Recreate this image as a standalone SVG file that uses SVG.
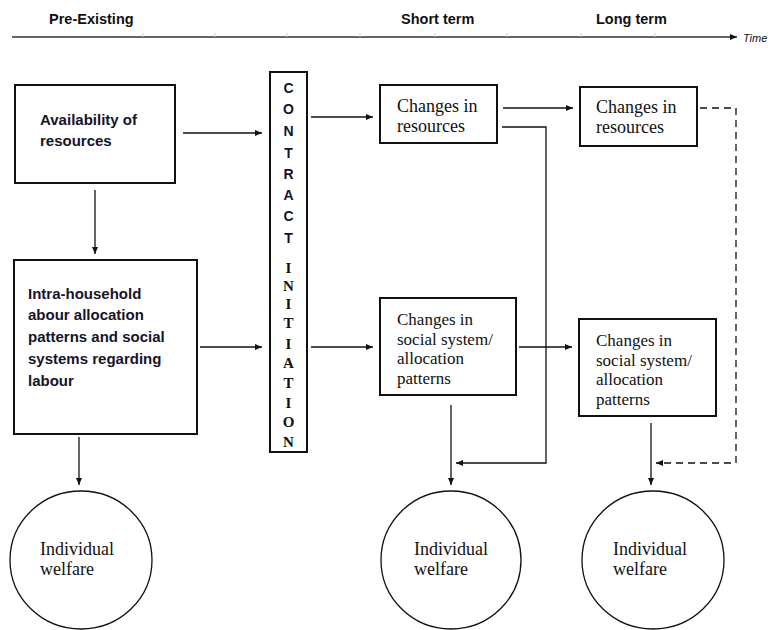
<svg xmlns="http://www.w3.org/2000/svg" width="771" height="630" viewBox="0 0 771 630">
<style>
.hdr{font-family:"Liberation Sans",Arial,sans-serif;font-weight:bold;font-size:14.5px;fill:#111}
.bs{font-family:"Liberation Sans",Arial,sans-serif;font-weight:bold;font-size:15px;fill:#14142a}
.sr{font-family:"Liberation Serif","Times New Roman",serif;font-size:18px;fill:#111}
.ss{font-family:"Liberation Serif","Times New Roman",serif;font-size:17px;fill:#111}
.box{fill:#fff;stroke:#111;stroke-width:2}
.ell{fill:#fff;stroke:#111;stroke-width:1.3}
.cn{fill:none;stroke:#111;stroke-width:1.3}
.dash{stroke-dasharray:7 5}
.tick{stroke:#ccc;stroke-width:1}
.cl{font-family:"Liberation Sans",Arial,sans-serif;font-weight:bold;font-size:14px;fill:#14142a;text-anchor:middle}
.il{font-family:"Liberation Serif","Times New Roman",serif;font-weight:bold;font-size:15px;fill:#111;text-anchor:middle}
</style>
<defs>
<marker id="ah" markerWidth="8" markerHeight="8" refX="7" refY="4" orient="auto" markerUnits="userSpaceOnUse">
<path d="M0,1 L7,4 L0,7 Z" fill="#111"/>
</marker>
</defs>
<g id="timeline">
<line x1="12" y1="37" x2="737" y2="37" stroke="#333" stroke-width="1.5" marker-end="url(#ah)"/>
<g class="tick">
<line x1="143" y1="33" x2="143" y2="37"/><line x1="215" y1="33" x2="215" y2="37"/><line x1="287" y1="33" x2="287" y2="37"/><line x1="360" y1="33" x2="360" y2="37"/><line x1="435" y1="33" x2="435" y2="37"/><line x1="507" y1="33" x2="507" y2="37"/><line x1="581" y1="33" x2="581" y2="37"/><line x1="655" y1="33" x2="655" y2="37"/>
</g>
<text class="hdr" x="49" y="24">Pre-Existing</text>
<text class="hdr" x="401" y="24">Short term</text>
<text class="hdr" x="596" y="24">Long term</text>
<text x="743" y="42" font-family="Liberation Sans,Arial,sans-serif" font-style="italic" font-size="11" fill="#111">Time</text>
</g>
<g id="connectors">
<line class="cn" x1="183" y1="133" x2="262" y2="133" marker-end="url(#ah)"/>
<line class="cn" x1="200" y1="347" x2="262" y2="347" marker-end="url(#ah)"/>
<line class="cn" x1="95" y1="190" x2="95" y2="254" marker-end="url(#ah)"/>
<line class="cn" x1="79" y1="437" x2="79" y2="485" marker-end="url(#ah)"/>
<line class="cn" x1="311" y1="117" x2="373" y2="117" marker-end="url(#ah)"/>
<line class="cn" x1="311" y1="347" x2="373" y2="347" marker-end="url(#ah)"/>
<line class="cn" x1="503" y1="108" x2="573" y2="108" marker-end="url(#ah)"/>
<line class="cn" x1="519" y1="347" x2="572" y2="347" marker-end="url(#ah)"/>
<polyline class="cn" points="502,127 546,127 546,463 456,463" marker-end="url(#ah)"/>
<polyline class="cn dash" points="700,108 736,108 736,463 656,463" marker-end="url(#ah)"/>
<line class="cn" x1="451" y1="405" x2="451" y2="485" marker-end="url(#ah)"/>
<line class="cn" x1="651" y1="423" x2="651" y2="485" marker-end="url(#ah)"/>
</g>
<g id="availability">
<rect class="box" x="15" y="85" width="160" height="98"/>
<text class="bs" x="40" y="125">Availability of</text>
<text class="bs" x="40" y="146">resources</text>
</g>
<g id="intra-household">
<rect class="box" x="14" y="260" width="183" height="174"/>
<text class="bs" x="28" y="299">Intra-household</text>
<text class="bs" x="28" y="320">abour allocation</text>
<text class="bs" x="28" y="342">patterns and social</text>
<text class="bs" x="28" y="364">systems regarding</text>
<text class="bs" x="28" y="386">labour</text>
</g>
<g id="contract-initiation">
<rect class="box" x="270" y="72" width="37" height="380"/>
<text class="cl" x="288.5" y="93">C</text>
<text class="cl" x="288.5" y="114">O</text>
<text class="cl" x="288.5" y="136">N</text>
<text class="cl" x="288.5" y="158">T</text>
<text class="cl" x="288.5" y="179">R</text>
<text class="cl" x="288.5" y="200">A</text>
<text class="cl" x="288.5" y="221">C</text>
<text class="cl" x="288.5" y="243">T</text>
<text class="il" x="288.5" y="273">I</text>
<text class="il" x="288.5" y="291">N</text>
<text class="il" x="288.5" y="309">I</text>
<text class="il" x="288.5" y="328">T</text>
<text class="il" x="288.5" y="349">I</text>
<text class="il" x="288.5" y="368">A</text>
<text class="il" x="288.5" y="388">T</text>
<text class="il" x="288.5" y="408">I</text>
<text class="il" x="288.5" y="427">O</text>
<text class="il" x="288.5" y="447">N</text>
</g>
<g id="short-resources">
<rect class="box" x="380" y="85" width="117" height="58"/>
<text class="sr" x="397" y="112">Changes in</text>
<text class="sr" x="397" y="132">resources</text>
</g>
<g id="long-resources">
<rect class="box" x="580" y="87" width="117" height="59"/>
<text class="sr" x="596" y="113">Changes in</text>
<text class="sr" x="596" y="133">resources</text>
</g>
<g id="short-social">
<rect class="box" x="380" y="298" width="136" height="97"/>
<text class="ss" x="397" y="325">Changes in</text>
<text class="ss" x="397" y="344.5">social system/</text>
<text class="ss" x="397" y="364">allocation</text>
<text class="ss" x="397" y="383.5">patterns</text>
</g>
<g id="long-social">
<rect class="box" x="579" y="319" width="137" height="97"/>
<text class="ss" x="596" y="346">Changes in</text>
<text class="ss" x="596" y="365.5">social system/</text>
<text class="ss" x="596" y="385">allocation</text>
<text class="ss" x="596" y="404.5">patterns</text>
</g>
<g id="welfare-pre">
<ellipse class="ell" cx="81" cy="560" rx="71" ry="69"/>
<text class="sr" x="40" y="555">Individual</text>
<text class="sr" x="40" y="575">welfare</text>
</g>
<g id="welfare-short">
<ellipse class="ell" cx="451" cy="560" rx="70" ry="69"/>
<text class="sr" x="414" y="555">Individual</text>
<text class="sr" x="414" y="575">welfare</text>
</g>
<g id="welfare-long">
<ellipse class="ell" cx="653" cy="560" rx="71" ry="69"/>
<text class="sr" x="613" y="555">Individual</text>
<text class="sr" x="613" y="575">welfare</text>
</g>
</svg>
